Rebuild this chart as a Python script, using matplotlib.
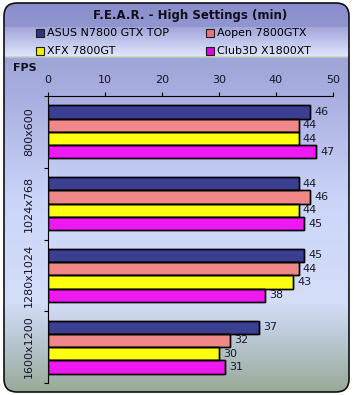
import numpy as np
import matplotlib
matplotlib.use("Agg")
import matplotlib.pyplot as plt
from matplotlib.patches import FancyBboxPatch, Patch
from matplotlib.colors import to_rgb

# data
resolutions = ["800x600", "1024x768", "1280x1024", "1600x1200"]
cards = ["ASUS N7800 GTX TOP", "Aopen 7800GTX", "XFX 7800GT", "Club3D X1800XT"]
asus = [46, 44, 45, 37]
aopen = [44, 46, 44, 32]
xfx = [44, 44, 43, 30]
club3d = [47, 45, 38, 31]
x_ticks = [0, 10, 20, 30, 40, 50]
title = "F.E.A.R. - High Settings (min)"

series = [asus, aopen, xfx, club3d]
# (top colour, bottom colour) for the shaded bars
bar_colors = [("#3a3f92", "#16194e"), ("#f08888", "#b05454"),
              ("#ffff10", "#b0b000"), ("#f018f0", "#980098")]
legend_colors = ["#2e3288", "#e07878", "#f0f000", "#e000e0"]

plt.rcParams["font.family"] = "DejaVu Sans"
W, H = 354, 395
fig = plt.figure(figsize=(W / 100, H / 100), dpi=100)

# background panel with rounded border and vertical gradient
bg = fig.add_axes([0, 0, 1, 1])
bg.set_xlim(0, W)
bg.set_ylim(H, 0)
bg.axis("off")
stops = [(0, "#898ccb"), (26, "#9296d0"), (27, "#a2a6da"), (55, "#dde5fd"),
         (57, "#b8c4b4"), (58, "#a0a5d8"), (95, "#a8aee0"), (200, "#cbd5f8"),
         (300, "#d4def9"), (325, "#c4d0e4"), (392, "#97a996")]
ys = np.arange(H)
grad = np.zeros((H, 1, 3))
for ch in range(3):
    grad[:, 0, ch] = np.interp(ys, [s[0] for s in stops], [to_rgb(s[1])[ch] for s in stops])
frame = FancyBboxPatch((4, 3), 345, 389, boxstyle="round,pad=0,rounding_size=13",
                       fc="none", ec="#101010", lw=1.2, zorder=3)
bg.add_patch(frame)
img = bg.imshow(grad, extent=[0, W, H, 0], aspect="auto", zorder=1)
img.set_clip_path(frame)

# main axes
left, right, top, bottom = 47.7, 333, 96, 383
ax = fig.add_axes([left / W, (H - bottom) / H, (right - left) / W, (bottom - top) / H])
ax.set_facecolor("none")
n = len(resolutions)
y = np.arange(n)
h = 0.185
for i, vals in enumerate(series):
    bars = ax.barh(y + (i - 1.5) * h, vals, height=h, color=bar_colors[i][0],
                   edgecolor="black", linewidth=1, zorder=3)
    top_c, bot_c = to_rgb(bar_colors[i][0]), to_rgb(bar_colors[i][1])
    shade = np.linspace(0, 1, 20)[:, None, None]
    g = np.array(top_c) * (1 - shade) + np.array(bot_c) * shade
    for b in bars:
        x0, y0 = b.get_x(), b.get_y()
        im = ax.imshow(g, extent=[x0, x0 + b.get_width(), y0 + b.get_height(), y0],
                       aspect="auto", zorder=2.5)
        im.set_clip_path(b)
    # outlines drawn on top of the shading
    outl = ax.barh(y + (i - 1.5) * h, vals, height=h, color="none",
                   edgecolor="black", linewidth=1, zorder=4)
    ax.bar_label(outl, padding=3, fontsize=8, color="#1a1a2a")

ax.set_xlim(0, 50)
ax.set_ylim(n - 0.5, -0.5)
ax.xaxis.tick_top()
ax.set_xticks(x_ticks)
ax.tick_params(axis="x", direction="out", length=3, width=0.8, labelsize=8,
               pad=5, labelcolor="#141428")
ax.set_yticks(y)
ax.set_yticklabels(resolutions, rotation=90, va="center", fontsize=8, color="#141428")
ax.tick_params(axis="y", length=0, pad=10)
ax.set_yticks(np.arange(n + 1) - 0.5, minor=True)
ax.tick_params(axis="y", which="minor", direction="out", length=3, width=0.8)
for s in ["right", "bottom"]:
    ax.spines[s].set_visible(False)
for s in ["left", "top"]:
    ax.spines[s].set_linewidth(0.8)

fig.text(190 / W, 1 - 16 / H, title, ha="center", va="center", fontsize=8.5,
         fontweight="bold", color="#10101a")
fig.text(13 / W, 1 - 68 / H, "FPS", ha="left", va="center", fontsize=8,
         fontweight="bold", color="#10101a")

handles = [Patch(facecolor=c, edgecolor="#202020", linewidth=0.8) for c in legend_colors]
for col, x0 in enumerate([36, 206]):
    fig.legend([handles[col], handles[col + 2]], [cards[col], cards[col + 2]],
               loc="upper left", bbox_to_anchor=(x0 / W, 1 - 28.5 / H),
               frameon=False, fontsize=8, handlelength=0.7, handleheight=0.7,
               handletextpad=0.3, labelspacing=0.72, borderpad=0, borderaxespad=0)

fig.savefig("out.png", dpi=100)
